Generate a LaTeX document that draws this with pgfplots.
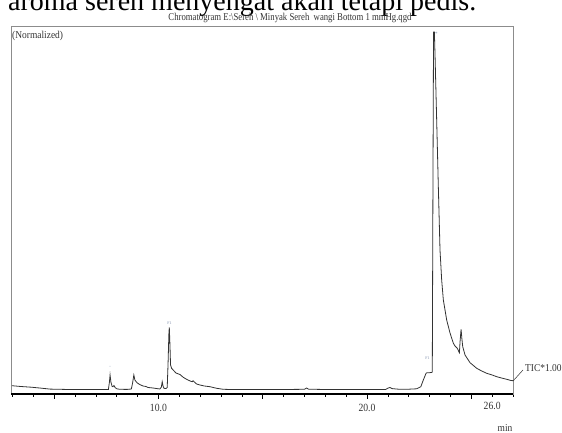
\documentclass[border=0pt]{standalone}
\usepackage{fontspec}
\setmainfont{Liberation Serif}
\usepackage{pgfplots}
\pgfplotsset{compat=1.18}
\definecolor{txt}{HTML}{333333}
\definecolor{boxgray}{HTML}{8C8C8C}
\definecolor{peaklbl}{HTML}{7A8AA8}
\newcommand{\cfont}{\fontsize{10.5}{12}\selectfont}
\begin{document}
\begin{tikzpicture}
% 1pt = 1px of the reference; axis box lower-left at (0,0)
\begin{axis}[
  at={(0,0)}, anchor=south west,
  scale only axis, width=502pt, height=368pt,
  xmin=2.93, xmax=27.0, ymin=0, ymax=368,
  clip=false,
  axis line style={boxgray, line width=0.8pt},
  ytick=\empty,
  xtick={5,10,15,20,25},
  xticklabels={,10.0,,20.0,},
  minor xtick={3,4,...,27},
  extra x ticks={26},
  extra x tick labels={26.0},
  extra x tick style={major tick length=3pt},
  xtick pos=left,
  tick align=outside,
  major tick length=5pt,
  minor tick length=3pt,
  tick style={black, line width=0.6pt},
  xticklabel style={font=\fontsize{11}{12}\selectfont, text=txt, xscale=0.88, inner sep=1pt, yshift=-4pt},
]
\addplot[color=txt, line width=0.8pt] coordinates {
(2.97,8.3) (3.4,7.5) (3.9,6.8) (4.3,6.0) (4.8,4.9) (5.5,4.6) (6.2,4.5) (7.0,4.5)
(7.6,4.6) (7.65,12) (7.68,19) (7.72,12) (7.78,7.5) (7.82,7.3) (7.87,8.5) (7.92,6.5)
(8.0,5.2) (8.15,4.7) (8.5,4.6) (8.70,5.0) (8.76,11) (8.82,19) (8.87,14) (8.97,11.3)
(9.1,9.5) (9.26,8) (9.4,7.5) (9.5,6.5) (9.74,6) (9.9,5.5) (10.07,5) (10.14,7)
(10.18,12.3) (10.22,8) (10.26,5.7) (10.36,5.5) (10.42,6.5) (10.46,30) (10.50,60)
(10.52,66.7) (10.55,50) (10.58,29) (10.63,25.7) (10.84,21) (11.03,19.5) (11.19,16.7)
(11.35,14.7) (11.55,12.7) (11.63,12.3) (11.66,13.3) (11.72,12) (11.83,10) (11.99,9)
(12.2,8) (12.47,7.3) (12.79,5.7) (13.11,4.7) (13.5,4.5) (14.5,4.5) (15.5,4.5)
(16.5,4.6) (17.0,4.7) (17.1,6) (17.2,4.8) (18,4.5) (19,4.5) (20,4.5) (20.9,4.6)
(21.0,5.8) (21.1,6.5) (21.2,5.4) (21.4,5.0) (21.58,4.7) (22.0,4.8) (22.38,5.2)
(22.50,6.5) (22.58,7.3) (22.70,14) (22.83,20.7) (22.88,21.3) (23.0,21.3) (23.10,21.6)
(23.13,22) (23.16,200) (23.19,362) (23.23,362) (23.26,340) (23.34,274) (23.42,207)
(23.50,144) (23.58,114) (23.66,94) (23.82,74) (23.98,61) (24.14,50.7) (24.22,48)
(24.33,45.7) (24.40,42.5) (24.43,41.3) (24.46,52) (24.51,64.7) (24.55,55) (24.59,47.3)
(24.70,39) (24.94,31.3) (25.26,25.7) (25.5,23) (25.74,20.7) (26.0,19) (26.22,17.3)
(26.45,16) (26.70,14.7) (26.9,13.5) (27.0,13.3)
};
% heavy bottom axis line
\draw[black, line width=1.2pt] (rel axis cs:0,0) -- (rel axis cs:1,0);
% tiny peak labels
\node[font=\fontsize{4}{4}\selectfont, text=peaklbl, inner sep=0] at (axis cs:7.68,27) {--};
\node[font=\fontsize{4}{4}\selectfont, text=peaklbl, inner sep=0] at (axis cs:10.53,71) {F1};
\node[font=\fontsize{4}{4}\selectfont, text=peaklbl, inner sep=0] at (axis cs:22.9,36) {F1};
\node[font=\fontsize{5}{5}\selectfont, text=peaklbl, inner sep=0] at (axis cs:23.33,360) {*};
\end{axis}
% texts around the chart
\node[anchor=base west, inner sep=0, font=\fontsize{28}{30}\selectfont] at (-3pt,383pt)
  {aroma sereh menyengat akan tetapi pedis.};
\node[inner sep=0, text=txt, xscale=0.83, font=\cfont] at (279pt,376pt)
  {Chromatogram E:\textbackslash Sereh \textbackslash\ Minyak Sereh\ \ wangi Bottom 1 mmHg.qgd};
\node[anchor=west, inner sep=0, text=txt, xscale=0.9, font=\cfont] at (1pt,358pt) {(Normalized)};
\draw[txt, line width=0.5pt] (502pt,13pt) -- (512pt,24pt);
\node[anchor=west, inner sep=0, text=txt, xscale=0.9, font=\cfont] at (514pt,26pt) {TIC*1.00};
\node[inner sep=0, text=txt, xscale=0.9, font=\cfont] at (494pt,-34pt) {min};
\pgfresetboundingbox
\path[use as bounding box] (-11pt,-39pt) rectangle (551pt,394pt);
\end{tikzpicture}
\end{document}
